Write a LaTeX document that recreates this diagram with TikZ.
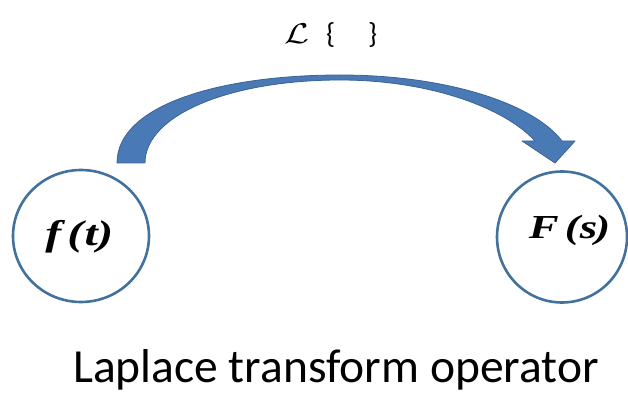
\documentclass[tikz,border=0pt]{standalone}
\usepackage{fontspec}
\usepackage{graphicx}
\usetikzlibrary{shapes.geometric}
\setmainfont{Liberation Serif}
\newfontfamily\labelfont{Carlito}
\newcommand{\wideg}[1]{\scalebox{1.4}[1.05]{#1}}
\definecolor{ringblue}{HTML}{41719C}
\definecolor{arrowfill}{HTML}{4A7AB5}
\definecolor{arrowedge}{HTML}{3A6396}
\begin{document}
\begin{tikzpicture}[x=1pt,y=-1pt,
  ring/.style={draw=ringblue,line width=2.6pt,ellipse,inner sep=0pt},
  fn/.style={font=\fontsize{34}{36}\selectfont\bfseries\itshape,inner sep=0pt,anchor=base west},
]
\useasboundingbox (0,0) rectangle (628,395);
\node[ring,minimum width=136pt,minimum height=132pt] (ft) at (81,236) {};
\node[ring,minimum width=130pt,minimum height=131pt] (Fs) at (562,237) {};
\node[fn] (ftl) at (40,245) {\makebox[26pt]{\wideg{f}}\makebox[18pt]{\wideg{(}}\makebox[14pt]{\wideg{t}}\makebox[14pt]{\wideg{)}}};
\node[fn,font=\fontsize{32}{34}\selectfont\bfseries\itshape] (Fsl) at (523,238) {\makebox[41pt]{\wideg{F}}\makebox[16pt]{\wideg{(}}\makebox[17pt]{\wideg{s}}\makebox[11pt]{\wideg{)}}};
% curved arrow
\filldraw[fill=arrowfill,draw=arrowedge,line width=0.8pt,line join=round]
  (117,163) .. controls (117,105) and (220,75) .. (340,75)
  .. controls (450,75) and (535,105) .. (562,141)
  -- (575,141) -- (555,163) -- (522,141) -- (535,141)
  .. controls (505,108) and (430,80) .. (340,80)
  .. controls (230,80) and (145,115) .. (145,163) -- cycle;
\node[font=\fontsize{24}{26}\selectfont,inner sep=0pt,anchor=base west] (op) at (284,44)
  {\makebox[42pt][l]{\scalebox{1.45}[1.15]{$\mathcal{L}$}}\makebox[42pt][l]{\labelfont\fontsize{29}{30}\selectfont\{}{\labelfont\fontsize{29}{30}\selectfont\}}};
\node[font=\labelfont\fontsize{47.5}{50}\selectfont,anchor=base,inner sep=0pt] (cap) at (336,382) {Laplace transform operator};
\end{tikzpicture}
\end{document}
